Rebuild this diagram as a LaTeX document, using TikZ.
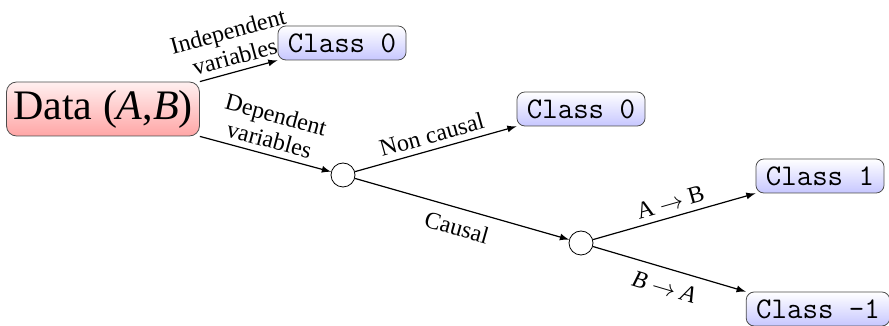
\documentclass[tikz,border=0pt]{standalone}
\usepackage{fontspec}
\setmainfont{Liberation Serif}

\begin{document}
\begin{tikzpicture}[x=0.5pt, y=0.5pt,
    databox/.style={draw=black!70, rounded corners=5pt, top color=red!6, bottom color=red!35,
      font=\fontsize{21}{24}\selectfont, minimum width=93pt, minimum height=27pt},
    classbox/.style={draw=black!70, rounded corners=4pt, top color=white, bottom color=blue!22,
      font=\ttfamily\fontsize{15}{17}\selectfont, minimum height=17pt, inner xsep=5pt, inner ysep=1pt},
    split/.style={draw, circle, minimum size=12pt, inner sep=0pt},
    edge/.style={-latex, semithick},
    lbl/.style={font=\fontsize{12}{13}\selectfont, sloped, align=center, inner sep=3pt}]
  \useasboundingbox (0,0) rectangle (889,326);

  % nodes
  \node[databox] (data) at (103,217) {Data (\textit{A},\textit{B})};
  \node[classbox] (indep) at (342,283) {Class 0};
  \node[split] (dep) at (343,151) {};
  \node[classbox] (noncausal) at (581,217) {Class 0};
  \node[split] (causal) at (581,83) {};
  \node[classbox] (ab) at (820,150) {Class 1};
  \node[classbox] (ba) at (818,17) {Class -1};

  % edges
  \draw[edge] (data.north east) -- (indep.south west)
    node[lbl, midway, above] {Independent\\variables};
  \draw[edge] (data.south east) -- (dep)
    node[lbl, midway, above] {Dependent\\variables};
  \draw[edge] (dep) -- (noncausal.south west)
    node[lbl, midway, above] {Non causal};
  \draw[edge] (dep) -- (causal)
    node[lbl, midway, below, inner sep=5pt] {Causal};
  \draw[edge] (causal) -- (ab.south west)
    node[lbl, midway, above] {A $\rightarrow$ B};
  \draw[edge] (causal) -- (ba.north west)
    node[lbl, midway, below, inner sep=5pt] {\textit{B} $\rightarrow$ \textit{A}};
\end{tikzpicture}
\end{document}
